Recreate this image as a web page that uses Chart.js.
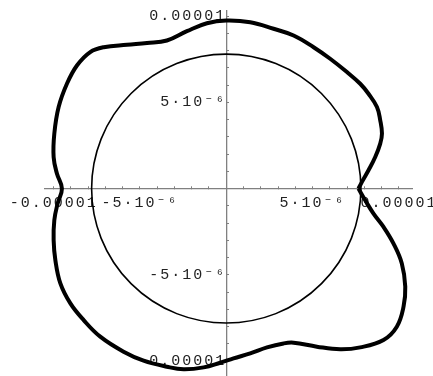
<!DOCTYPE html>
<html><head><meta charset="utf-8">
<script src="https://cdn.jsdelivr.net/npm/chart.js@4.4.1/dist/chart.umd.min.js"></script>
<style>html,body{margin:0;padding:0;background:#fff}#wrap{width:433px;height:376px;position:relative}</style>
</head><body><div id="wrap"><canvas id="c"></canvas></div>
<script>
// Thick closed curve (data units)
const curveX = [7.66e-6, 7.86e-6, 8.24e-6, 8.63e-6, 8.92e-6, 9.02e-6, 8.92e-6, 8.73e-6, 8.24e-6, 7.76e-6,
  6.99e-6, 6.02e-6, 5.06e-6, 3.90e-6, 2.74e-6, 1.39e-6, 0, -1.12e-6, -2.28e-6, -3.44e-6,
  -4.59e-6, -5.75e-6, -7.10e-6, -7.88e-6, -8.65e-6, -9.23e-6, -9.71e-6, -9.96e-6, -10.0e-6, -9.81e-6,
  -9.52e-6, -9.77e-6, -9.96e-6, -10.0e-6, -9.90e-6, -9.61e-6, -9.03e-6, -8.26e-6, -7.30e-6, -5.95e-6,
  -4.79e-6, -3.44e-6, -2.47e-6, -1.31e-6, -0.35e-6, 0.42e-6, 1.39e-6, 2.36e-6, 3.32e-6, 3.90e-6,
  5.25e-6, 6.60e-6, 7.76e-6, 9.11e-6, 9.88e-6, 10.27e-6, 10.37e-6, 10.17e-6, 9.69e-6, 9.11e-6,
  8.53e-6, 8.05e-6, 7.66e-6];
const curveY = [0, 0.39e-6, 1.06e-6, 1.83e-6, 2.61e-6, 3.19e-6, 3.96e-6, 4.73e-6, 5.50e-6, 6.08e-6,
  6.76e-6, 7.53e-6, 8.20e-6, 8.88e-6, 9.27e-6, 9.65e-6, 9.75e-6, 9.59e-6, 9.13e-6, 8.59e-6,
  8.44e-6, 8.34e-6, 8.20e-6, 7.92e-6, 7.14e-6, 6.08e-6, 4.73e-6, 3.19e-6, 1.83e-6, 0.87e-6,
  0, -0.87e-6, -1.83e-6, -2.99e-6, -4.15e-6, -5.50e-6, -6.66e-6, -7.63e-6, -8.59e-6, -9.46e-6,
  -9.98e-6, -10.33e-6, -10.48e-6, -10.37e-6, -10.10e-6, -9.85e-6, -9.56e-6, -9.21e-6, -8.98e-6, -8.94e-6,
  -9.17e-6, -9.32e-6, -9.21e-6, -8.78e-6, -8.01e-6, -6.85e-6, -5.69e-6, -4.34e-6, -3.19e-6, -2.22e-6,
  -1.45e-6, -0.68e-6, 0];
// Thin circle centred on the origin
const circleRadius = 7.8e-6;
// Axis ticks
const minorTickValues = [-9e-6,-8e-6,-7e-6,-6e-6,-4e-6,-3e-6,-2e-6,-1e-6,1e-6,2e-6,3e-6,4e-6,6e-6,7e-6,8e-6,9e-6];
const majorTickValues = [-1e-5, -5e-6, 5e-6, 1e-5];
const majorTickLabels = ['-0.00001', '-5·10⁻⁶', '5·10⁻⁶', '0.00001'];
const xRange = [-10.5e-6, 10.76e-6];
const yRange = [-10.87e-6, 10.3e-6];

const allTicks = majorTickValues.concat(minorTickValues).sort((a,b)=>a-b);
function labelFor(v){
  for (let i=0;i<majorTickValues.length;i++){
    if (Math.abs(v-majorTickValues[i]) < 1e-9) return majorTickLabels[i];
  }
  return '';
}
const AXIS = '#808080';
const FONT = {family: "'Liberation Mono', 'DejaVu Sans Mono', monospace", size: 15};

const spacingPlugin = {
  id: 'spacing',
  beforeLayout(chart){ try { chart.ctx.letterSpacing = '2px'; } catch(e){} },
  beforeDraw(chart){ try { chart.ctx.letterSpacing = '2px'; } catch(e){} }
};
const circlePlugin = {
  id: 'circle',
  beforeDatasetsDraw(chart){
    const {ctx, scales:{x, y}} = chart;
    const cx = x.getPixelForValue(0), cy = y.getPixelForValue(0);
    const rx = x.getPixelForValue(circleRadius) - cx;
    const ry = cy - y.getPixelForValue(circleRadius);
    ctx.save();
    ctx.beginPath();
    ctx.ellipse(cx, cy, rx, ry, 0, 0, Math.PI*2);
    ctx.lineWidth = 1.6;
    ctx.strokeStyle = '#000';
    ctx.stroke();
    ctx.restore();
  }
};

function zeroFit(s){
  if (s.isHorizontal()) s.height = 0; else s.width = 0;
  s.paddingLeft = 0; s.paddingRight = 0; s.paddingTop = 0; s.paddingBottom = 0;
}

new Chart(document.getElementById('c'), {
  type: 'scatter',
  data: {
    datasets: [{
      data: curveX.map((vx, i) => ({x: vx, y: curveY[i]})),
      showLine: true,
      borderColor: '#000',
      borderWidth: 4,
      pointRadius: 0,
      tension: 0.4,
      fill: false
    }]
  },
  options: {
    responsive: true,
    maintainAspectRatio: false,
    animation: false,
    devicePixelRatio: 1,
    layout: {padding: {left: 45, right: 21, top: 11, bottom: 0}},
    plugins: {legend: {display: false}, tooltip: {enabled: false}},
    scales: {
      x: {
        type: 'linear', min: xRange[0], max: xRange[1],
        position: {y: 0},
        afterBuildTicks: s => { s.ticks = allTicks.map(v => ({value: v})); },
        afterFit: zeroFit,
        grid: {display: true, drawOnChartArea: false, drawTicks: true, tickLength: -3, tickColor: AXIS, tickWidth: 1},
        border: {display: true, color: AXIS, width: 1.3},
        ticks: {autoSkip: false, maxRotation: 0, minRotation: 0, padding: 8, font: FONT, color: '#222', callback: v => labelFor(v)}
      },
      y: {
        type: 'linear', min: yRange[0], max: yRange[1],
        position: {x: 0},
        afterBuildTicks: s => { s.ticks = allTicks.map(v => ({value: v})); },
        afterFit: zeroFit,
        grid: {display: true, drawOnChartArea: false, drawTicks: true, tickLength: -3, tickColor: AXIS, tickWidth: 1},
        border: {display: true, color: AXIS, width: 1.3},
        ticks: {autoSkip: false, padding: 8, font: FONT, color: '#222', callback: v => labelFor(v)}
      }
    }
  },
  plugins: [spacingPlugin, circlePlugin]
});
</script>
</body></html>
